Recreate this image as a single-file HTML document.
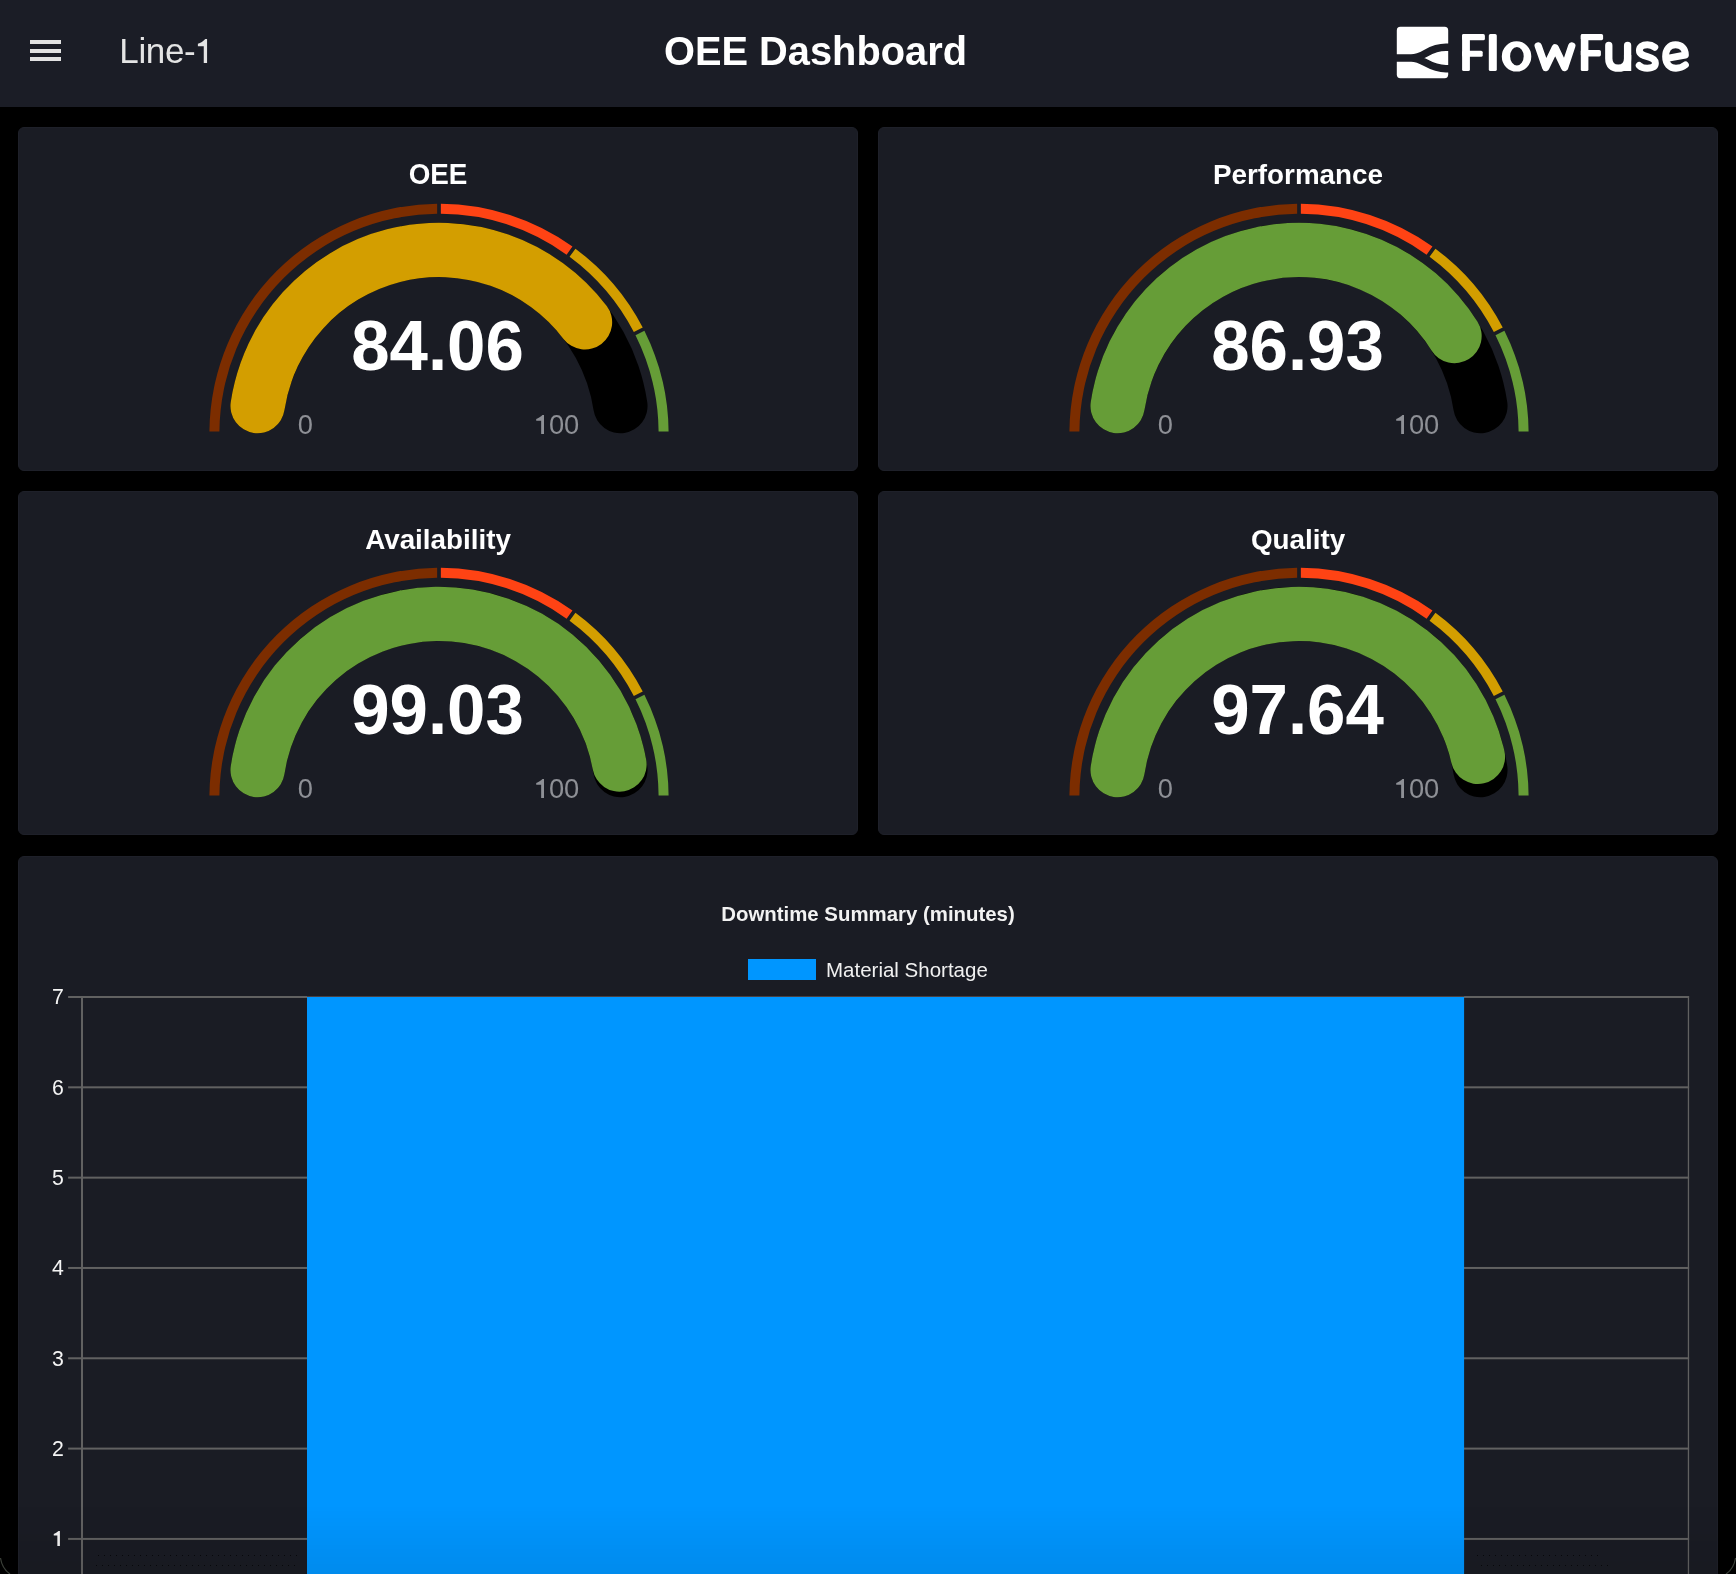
<!DOCTYPE html>
<html><head><meta charset="utf-8"><title>OEE Dashboard</title>
<style>
html,body{margin:0;padding:0;}
body{width:1736px;height:1574px;background:#000;overflow:hidden;position:relative;font-family:"Liberation Sans",sans-serif;}
svg{will-change:transform;}
.hdr{position:absolute;left:0;top:0;width:1736px;height:107px;background:#1b1d26;}
.hb{position:absolute;left:30px;width:31px;height:4px;background:#e2e2e2;}
.card{position:absolute;background:#1a1c24;border-radius:6px;box-sizing:border-box;overflow:hidden;border:1px solid #1e2029;}
.card svg.g{position:absolute;left:-1px;top:-1px;}
.gt{font-family:"Liberation Sans",sans-serif;font-weight:bold;font-size:27.8px;fill:#fff;}
.gv{font-family:"Liberation Sans",sans-serif;font-weight:bold;font-size:69px;fill:#fff;}
.gl{font-family:"Liberation Sans",sans-serif;font-size:27.3px;fill:#8e9096;}
.yl{font-family:"Liberation Sans",sans-serif;font-size:21.3px;fill:#f4f4f4;}
.ct{font-family:"Liberation Sans",sans-serif;font-weight:bold;font-size:20.4px;fill:#f2f2f2;}
.lg{font-family:"Liberation Sans",sans-serif;font-size:20.5px;fill:#f0f0f0;}
</style></head><body>

<div class="hdr">
<div class="hb" style="top:40px"></div>
<div class="hb" style="top:48.5px"></div>
<div class="hb" style="top:57px"></div>
<svg style="position:absolute;left:0;top:0" width="1736" height="107" viewBox="0 0 1736 107">
<text x="119.3" y="63" transform="matrix(1,0,0,1.0,0,-0.000)" font-family="Liberation Sans" font-size="35" letter-spacing="-0.35" fill="#e4e4e4">Line-</text>
<path fill="#e4e4e4" d="M205.25,38.90L207.07,38.90L207.07,63.05L203.76,63.05L203.76,46.14L197.89,46.14L197.89,43.85C200.53,42.76 203.43,41.13 205.25,38.90Z"/>
<text x="815.5" y="65.2" transform="matrix(1,0,0,1.02,0,-1.304)" text-anchor="middle" font-family="Liberation Sans" font-weight="bold" font-size="39.8" fill="#fff">OEE Dashboard</text>
<rect x="1396.8" y="26.8" width="51.4" height="51.4" rx="3.6" fill="#fff"/>
<path d="M1395,58 L1411,58 C1424.5,58 1428,47.3 1446,47.3 L1450,47.3 M1395,58 L1411,58 C1424.5,58 1428,68.7 1446,68.7 L1450,68.7" fill="none" stroke="#1b1d26" stroke-width="7.4"/>
<g fill="#fff">
<rect x="1462.1" y="34.1" width="7.8" height="36.9" rx="1.6"/>
<rect x="1462.1" y="34.1" width="22.8" height="6.2" rx="1.6"/>
<rect x="1462.1" y="50.7" width="20.6" height="6.1" rx="1.6"/>
<rect x="1488.8" y="34.1" width="8" height="36.9" rx="1.6"/>
<path fill-rule="evenodd" d="M1501.8,56.45 A14.75,15.15 0 1 0 1531.3,56.45 A14.75,15.15 0 1 0 1501.8,56.45 Z M1510.1,56.25 A6.8,9.15 0 1 0 1523.7,56.25 A6.8,9.15 0 1 0 1510.1,56.25 Z"/>
<rect x="1580.8" y="34.1" width="7.6" height="36.9" rx="1.6"/>
<rect x="1580.8" y="34.1" width="22.3" height="6.1" rx="1.6"/>
<rect x="1580.8" y="50.0" width="20.1" height="6.4" rx="1.6"/>
</g>
<g fill="none" stroke="#fff" stroke-linejoin="round">
<path stroke-width="7.3" stroke-linecap="round" d="M1538.2,45.9 L1545.8,67.5 L1555.2,47.9 L1564.6,67.5 L1571.8,45.9"/>
<path stroke-width="7.3" stroke-linecap="round" d="M1608.8,45.4 L1608.8,58.5 C1608.8,65.2 1612.3,68.2 1618.2,68.2 C1624.2,68.2 1627.6,65.2 1627.6,58.5 L1627.6,45.4"/>
<path stroke-width="7.3" d="M1627.6,55 L1627.6,71"/>
<path stroke-width="6.9" stroke-linecap="round" d="M1654.8,47.3 C1652.4,45.5 1650.2,44.8 1647.4,44.8 C1642.2,44.8 1639.4,47 1639.4,50.6 C1639.4,54.4 1643,55.4 1647.4,56.6 C1652,57.8 1655.4,59.4 1655.4,63.1 C1655.4,66.6 1652.4,68.2 1647.2,68.2 C1643.8,68.2 1641,67.1 1639.2,65.4"/>
<path stroke-width="6.9" stroke-linecap="round" d="M1667.2,58.3 L1685.4,55 C1685.4,48.5 1681.2,44.8 1675.6,44.8 C1669.6,44.8 1665.6,49.5 1665.6,56.6 C1665.6,63.8 1669.8,68.2 1676,68.2 C1679.8,68.2 1682.8,67 1685.4,64.9"/>
</g>
</svg>
</div>
<div class="card" style="left:18px;top:127px;width:840px;height:344px"><svg class="g" width="840" height="344" viewBox="0 0 840 344"><path fill="#7c2d00" d="M191.41,304.55A229.6,229.6 0 0 1 419.15,76.81L419.15,86.81A219.6,219.6 0 0 0 201.41,304.55Z"/>
<path fill="#ff4314" d="M422.85,76.81A229.6,229.6 0 0 1 554.45,119.57L548.58,127.66A219.6,219.6 0 0 0 422.85,86.81Z"/>
<path fill="#d39e00" d="M557.45,121.74A229.6,229.6 0 0 1 624.73,200.52L615.82,205.06A219.6,219.6 0 0 0 551.57,129.83Z"/>
<path fill="#669d37" d="M626.41,203.82A229.6,229.6 0 0 1 650.59,304.55L640.59,304.55A219.6,219.6 0 0 0 617.50,208.36Z"/>
<path fill="#000000" d="M212.72,275.23A210.6,210.6 0 0 1 629.28,275.23A27.14999999999999,27.14999999999999 0 0 1 575.58,283.27A156.3,156.3 0 0 0 266.42,283.27A27.14999999999999,27.14999999999999 0 0 1 212.72,275.23Z"/>
<path fill="#d39e00" d="M212.72,275.23A210.6,210.6 0 0 1 588.74,179.06A27.14999999999999,27.14999999999999 0 0 1 545.49,211.89A156.3,156.3 0 0 0 266.42,283.27A27.14999999999999,27.14999999999999 0 0 1 212.72,275.23Z"/><text class="gv" x="419.5" y="242.60000000000002" text-anchor="middle" transform="matrix(1,0,0,1.03,0,-7.278)">84.06</text><text class="gl" x="279.83" y="307.4" transform="matrix(1,0,0,1.02,0,-6.148)">0</text><path fill="#8e9096" d="M524.43,288.00L526.00,288.00L526.00,307.00L523.15,307.00L523.15,293.70L518.21,293.70L518.21,291.89C520.43,291.04 522.87,289.75 524.43,288.00Z"/><text class="gl" x="530.93" y="307.4" transform="matrix(1,0,0,1.02,0,-6.148)">00</text><text class="gt" x="420" y="56.80" text-anchor="middle" transform="matrix(1,0,0,1.04,0,-2.272)">OEE</text></svg></div>
<div class="card" style="left:878px;top:127px;width:840px;height:344px"><svg class="g" width="840" height="344" viewBox="0 0 840 344"><path fill="#7c2d00" d="M191.41,304.55A229.6,229.6 0 0 1 419.15,76.81L419.15,86.81A219.6,219.6 0 0 0 201.41,304.55Z"/>
<path fill="#ff4314" d="M422.85,76.81A229.6,229.6 0 0 1 554.45,119.57L548.58,127.66A219.6,219.6 0 0 0 422.85,86.81Z"/>
<path fill="#d39e00" d="M557.45,121.74A229.6,229.6 0 0 1 624.73,200.52L615.82,205.06A219.6,219.6 0 0 0 551.57,129.83Z"/>
<path fill="#669d37" d="M626.41,203.82A229.6,229.6 0 0 1 650.59,304.55L640.59,304.55A219.6,219.6 0 0 0 617.50,208.36Z"/>
<path fill="#000000" d="M212.72,275.23A210.6,210.6 0 0 1 629.28,275.23A27.14999999999999,27.14999999999999 0 0 1 575.58,283.27A156.3,156.3 0 0 0 266.42,283.27A27.14999999999999,27.14999999999999 0 0 1 212.72,275.23Z"/>
<path fill="#669d37" d="M212.72,275.23A210.6,210.6 0 0 1 599.53,194.68A27.14999999999999,27.14999999999999 0 0 1 553.50,223.49A156.3,156.3 0 0 0 266.42,283.27A27.14999999999999,27.14999999999999 0 0 1 212.72,275.23Z"/><text class="gv" x="419.5" y="242.60000000000002" text-anchor="middle" transform="matrix(1,0,0,1.03,0,-7.278)">86.93</text><text class="gl" x="279.83" y="307.4" transform="matrix(1,0,0,1.02,0,-6.148)">0</text><path fill="#8e9096" d="M524.43,288.00L526.00,288.00L526.00,307.00L523.15,307.00L523.15,293.70L518.21,293.70L518.21,291.89C520.43,291.04 522.87,289.75 524.43,288.00Z"/><text class="gl" x="530.93" y="307.4" transform="matrix(1,0,0,1.02,0,-6.148)">00</text><text class="gt" x="420" y="56.80" text-anchor="middle" transform="matrix(1,0,0,1.0,0,-0.000)">Performance</text></svg></div>
<div class="card" style="left:18px;top:491px;width:840px;height:344px"><svg class="g" width="840" height="344" viewBox="0 0 840 344"><path fill="#7c2d00" d="M191.41,304.55A229.6,229.6 0 0 1 419.15,76.81L419.15,86.81A219.6,219.6 0 0 0 201.41,304.55Z"/>
<path fill="#ff4314" d="M422.85,76.81A229.6,229.6 0 0 1 554.45,119.57L548.58,127.66A219.6,219.6 0 0 0 422.85,86.81Z"/>
<path fill="#d39e00" d="M557.45,121.74A229.6,229.6 0 0 1 624.73,200.52L615.82,205.06A219.6,219.6 0 0 0 551.57,129.83Z"/>
<path fill="#669d37" d="M626.41,203.82A229.6,229.6 0 0 1 650.59,304.55L640.59,304.55A219.6,219.6 0 0 0 617.50,208.36Z"/>
<path fill="#000000" d="M212.72,275.23A210.6,210.6 0 0 1 629.28,275.23A27.14999999999999,27.14999999999999 0 0 1 575.58,283.27A156.3,156.3 0 0 0 266.42,283.27A27.14999999999999,27.14999999999999 0 0 1 212.72,275.23Z"/>
<path fill="#669d37" d="M212.72,275.23A210.6,210.6 0 0 1 628.23,268.90A27.14999999999999,27.14999999999999 0 0 1 574.80,278.57A156.3,156.3 0 0 0 266.42,283.27A27.14999999999999,27.14999999999999 0 0 1 212.72,275.23Z"/><text class="gv" x="419.5" y="242.60000000000002" text-anchor="middle" transform="matrix(1,0,0,1.03,0,-7.278)">99.03</text><text class="gl" x="279.83" y="307.4" transform="matrix(1,0,0,1.02,0,-6.148)">0</text><path fill="#8e9096" d="M524.43,288.00L526.00,288.00L526.00,307.00L523.15,307.00L523.15,293.70L518.21,293.70L518.21,291.89C520.43,291.04 522.87,289.75 524.43,288.00Z"/><text class="gl" x="530.93" y="307.4" transform="matrix(1,0,0,1.02,0,-6.148)">00</text><text class="gt" x="420" y="57.50" text-anchor="middle" transform="matrix(1,0,0,1.0,0,-0.000)">Availability</text></svg></div>
<div class="card" style="left:878px;top:491px;width:840px;height:344px"><svg class="g" width="840" height="344" viewBox="0 0 840 344"><path fill="#7c2d00" d="M191.41,304.55A229.6,229.6 0 0 1 419.15,76.81L419.15,86.81A219.6,219.6 0 0 0 201.41,304.55Z"/>
<path fill="#ff4314" d="M422.85,76.81A229.6,229.6 0 0 1 554.45,119.57L548.58,127.66A219.6,219.6 0 0 0 422.85,86.81Z"/>
<path fill="#d39e00" d="M557.45,121.74A229.6,229.6 0 0 1 624.73,200.52L615.82,205.06A219.6,219.6 0 0 0 551.57,129.83Z"/>
<path fill="#669d37" d="M626.41,203.82A229.6,229.6 0 0 1 650.59,304.55L640.59,304.55A219.6,219.6 0 0 0 617.50,208.36Z"/>
<path fill="#000000" d="M212.72,275.23A210.6,210.6 0 0 1 629.28,275.23A27.14999999999999,27.14999999999999 0 0 1 575.58,283.27A156.3,156.3 0 0 0 266.42,283.27A27.14999999999999,27.14999999999999 0 0 1 212.72,275.23Z"/>
<path fill="#669d37" d="M212.72,275.23A210.6,210.6 0 0 1 626.40,259.89A27.14999999999999,27.14999999999999 0 0 1 573.44,271.88A156.3,156.3 0 0 0 266.42,283.27A27.14999999999999,27.14999999999999 0 0 1 212.72,275.23Z"/><text class="gv" x="419.5" y="242.60000000000002" text-anchor="middle" transform="matrix(1,0,0,1.03,0,-7.278)">97.64</text><text class="gl" x="279.83" y="307.4" transform="matrix(1,0,0,1.02,0,-6.148)">0</text><path fill="#8e9096" d="M524.43,288.00L526.00,288.00L526.00,307.00L523.15,307.00L523.15,293.70L518.21,293.70L518.21,291.89C520.43,291.04 522.87,289.75 524.43,288.00Z"/><text class="gl" x="530.93" y="307.4" transform="matrix(1,0,0,1.02,0,-6.148)">00</text><text class="gt" x="420" y="57.50" text-anchor="middle" transform="matrix(1,0,0,1.0,0,-0.000)">Quality</text></svg></div>
<div class="card" style="left:18px;top:856px;width:1700px;height:760px"><svg width="1700" height="760" viewBox="18 856 1700 760" style="position:absolute;left:-1px;top:-1px"><rect x="68.1" y="996.00" width="1621.0" height="2" fill="#616161"/><text x="63.9" y="1004.30" text-anchor="end" class="yl" transform="matrix(1,0,0,1.03,0,-30.129)">7</text><rect x="68.1" y="1086.32" width="1621.0" height="2" fill="#616161"/><text x="63.9" y="1094.62" text-anchor="end" class="yl" transform="matrix(1,0,0,1.03,0,-32.839)">6</text><rect x="68.1" y="1176.64" width="1621.0" height="2" fill="#616161"/><text x="63.9" y="1184.94" text-anchor="end" class="yl" transform="matrix(1,0,0,1.03,0,-35.548)">5</text><rect x="68.1" y="1266.96" width="1621.0" height="2" fill="#616161"/><text x="63.9" y="1275.26" text-anchor="end" class="yl" transform="matrix(1,0,0,1.03,0,-38.258)">4</text><rect x="68.1" y="1357.28" width="1621.0" height="2" fill="#616161"/><text x="63.9" y="1365.58" text-anchor="end" class="yl" transform="matrix(1,0,0,1.03,0,-40.967)">3</text><rect x="68.1" y="1447.60" width="1621.0" height="2" fill="#616161"/><text x="63.9" y="1455.90" text-anchor="end" class="yl" transform="matrix(1,0,0,1.03,0,-43.677)">2</text><rect x="68.1" y="1537.92" width="1621.0" height="2" fill="#616161"/><path fill="#f4f4f4" d="M58.50,1530.92L59.90,1530.92L59.90,1545.92L57.35,1545.92L57.35,1535.42L53.75,1535.42L53.75,1534.00C55.37,1533.32 57.09,1532.30 58.50,1530.92Z"/><rect x="81" y="996" width="2" height="620" fill="#616161"/><rect x="1687.8" y="996" width="1.3" height="620" fill="#616161"/><rect x="307" y="996" width="1157.1" height="1" fill="#4a4244"/><rect x="307" y="997" width="1157.1" height="620" fill="#0096ff"/><text x="868" y="920.7" text-anchor="middle" class="ct" transform="matrix(1,0,0,1.015,0,-13.810)">Downtime Summary (minutes)</text><rect x="748" y="959" width="68" height="21" fill="#0096ff"/><text x="826" y="976.6" class="lg" transform="matrix(1,0,0,1.0,0,-0.000)">Material Shortage</text></svg></div>
<div style="position:absolute;left:0;top:1505px;width:1736px;height:69px;background:linear-gradient(to bottom,rgba(0,0,0,0),rgba(0,0,0,0.07));pointer-events:none"></div>
<svg style="position:absolute;left:0;top:1540px" width="1736" height="34" viewBox="0 1540 1736 34">
<path d="M0.5,1558 C1.5,1565 5,1570.5 10,1574" fill="none" stroke="#3a3f38" stroke-width="1.2"/>
<path d="M1735.5,1558 C1734.5,1565 1731,1570.5 1726,1574" fill="none" stroke="#3a3f38" stroke-width="1.2"/>
<g stroke="#07080b" stroke-width="1" stroke-dasharray="1 5">
<line x1="98" y1="1555.5" x2="298" y2="1555.5"/>
<line x1="96" y1="1565.5" x2="298" y2="1565.5"/>
<line x1="1477" y1="1555.5" x2="1600" y2="1555.5"/>
<line x1="1481" y1="1565.5" x2="1610" y2="1565.5"/>
</g>
</svg>
</body></html>
